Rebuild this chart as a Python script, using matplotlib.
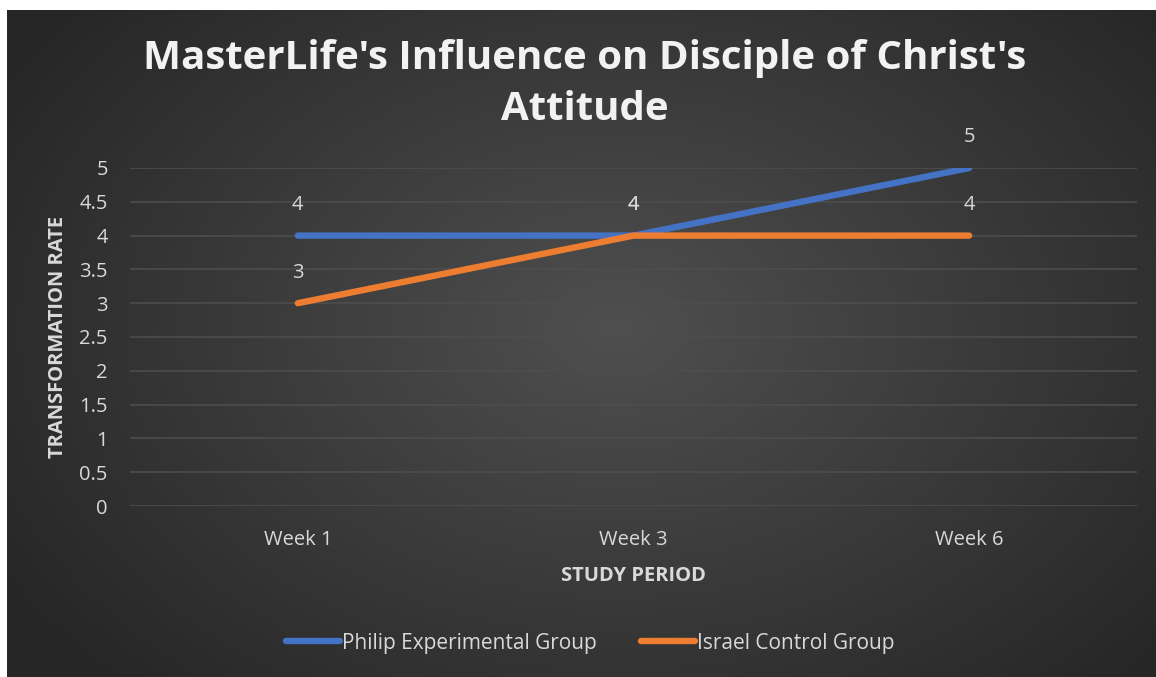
# MasterLife chart - line chart on a dark radial background

import numpy as np
import matplotlib.pyplot as plt

plt.rcParams['font.family'] = ['Open Sans', 'DejaVu Sans']

# data
weeks = ['Week 1', 'Week 3', 'Week 6']
philip = [4, 4, 5]
israel = [3, 4, 4]
yticks = [0, 0.5, 1, 1.5, 2, 2.5, 3, 3.5, 4, 4.5, 5]

W, H = 1156, 677
fig = plt.figure(figsize=(W / 100, H / 100), dpi=100, facecolor='white')

# dark panel with radial gradient
bg = fig.add_axes([7 / W, 0, 1 - 7 / W, 1 - 10 / H])
bg.set_axis_off()
yy, xx = np.mgrid[0:200, 0:340]
cx, cy = 180, 95
r = np.sqrt(((xx - cx) / 170) ** 2 + ((yy - cy) / 120) ** 2)
r = np.clip(r / 1.25, 0, 1)
shade = 0.31 - 0.16 * r
img = np.dstack([shade, shade, shade])
bg.imshow(img, aspect='auto', extent=[0, 1, 0, 1], interpolation='bilinear')
bg.set_xlim(0, 1)
bg.set_ylim(0, 1)

# main axes
ax = fig.add_axes([130 / W, 1 - 506 / H, 1007 / W, 338 / H])
ax.patch.set_alpha(0)
x = np.arange(len(weeks))

ax.plot(x, philip, color='#4472C4', lw=4.6, solid_capstyle='round', label='Philip Experimental Group', zorder=3)
ax.plot(x, israel, color='#ED7D31', lw=4.6, solid_capstyle='round', label='Israel Control Group', zorder=4)

# data labels above each point
for xi, v in zip(x, philip):
    ax.annotate(str(v), (xi, v), xytext=(0, 22), textcoords='offset points',
                ha='center', va='center', color='#d9d9d9', fontsize=14.5)
for xi, v in zip(x, israel):
    ax.annotate(str(v), (xi, v), xytext=(0, 22), textcoords='offset points',
                ha='center', va='center', color='#d9d9d9', fontsize=14.5)

ax.set_xlim(-0.5, 2.5)
ax.set_ylim(0, 5)
ax.set_yticks(yticks)
ax.set_yticklabels([f'{t:g}' for t in yticks])
ax.set_xticks(x)
ax.set_xticklabels(weeks)
ax.grid(axis='y', color='#4d4d4d', lw=1.2)
ax.set_axisbelow(True)
for s in ax.spines.values():
    s.set_visible(False)
ax.tick_params(length=0, colors='#d9d9d9', labelsize=14.5)
ax.tick_params(axis='x', pad=17)
ax.tick_params(axis='y', pad=16)

ax.set_xlabel('STUDY PERIOD', color='#d9d9d9', fontsize=14.5, fontweight='bold', labelpad=12)
ax.set_ylabel('TRANSFORMATION RATE', color='#d9d9d9', fontsize=14.5, fontweight='bold', labelpad=8)

# title in two lines
fig.text(585 / W, 1 - 58 / H, "MasterLife's Influence on Disciple of Christ's",
         ha='center', va='center', color='#f2f2f2', fontsize=29, fontweight='bold')
fig.text(585 / W, 1 - 109 / H, "Attitude",
         ha='center', va='center', color='#f2f2f2', fontsize=29, fontweight='bold')

leg = fig.legend(loc='center', bbox_to_anchor=(590 / W, 1 - 643 / H), ncol=2, frameon=False,
                 fontsize=15, labelcolor='#d9d9d9', handlelength=2.6, handletextpad=0.1,
                 columnspacing=2.1)

plt.savefig('out.png', dpi=100, facecolor='white')
